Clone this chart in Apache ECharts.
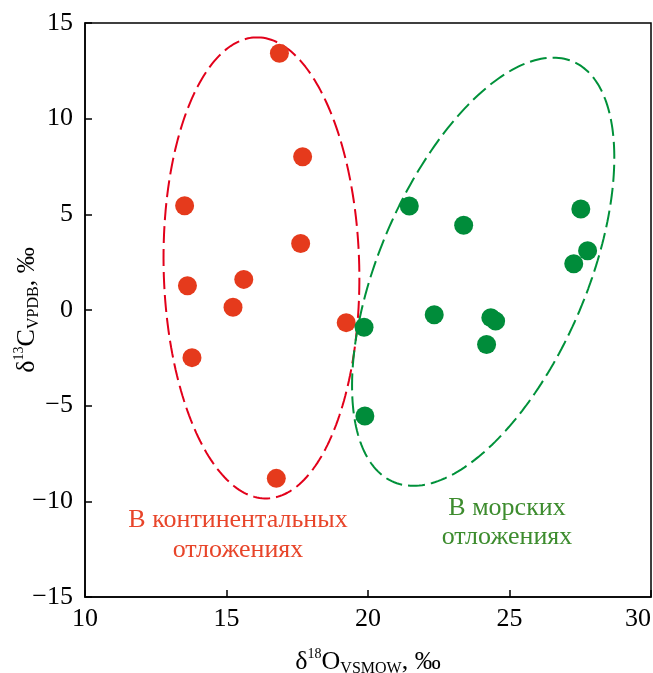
<!DOCTYPE html>
<html><head><meta charset="utf-8">
<script src="https://cdn.jsdelivr.net/npm/echarts@6/dist/echarts.min.js"></script>
<style>html,body{margin:0;padding:0;background:#fff}#c{width:653px;height:673px}</style>
</head><body><div id="c"></div>
<script>
// Continental deposits (red)
const contX = [16.87, 17.69, 13.52, 17.62, 13.62, 15.61, 15.23, 13.78, 16.76, 19.23];
const contY = [13.42, 8.01, 5.45, 3.48, 1.27, 1.60, 0.14, -2.49, -8.80, -0.66];
// Marine deposits (green)
const marX = [21.46, 23.38, 27.52, 27.76, 27.27, 19.86, 22.34, 24.34, 24.51, 24.19, 19.89];
const marY = [5.44, 4.43, 5.28, 3.10, 2.42, -0.90, -0.25, -0.40, -0.58, -1.80, -5.54];
// Ticks
const xMin = 10, xMax = 30, xStep = 5;
const yMin = -15, yMax = 15, yStep = 5;
// Group outline ellipses (center, conjugate half-axes in data units)
const contEllipse = {cx: 16.235, cy: 2.2, ux: -0.02, uy: 12.04, vx: 3.46, vy: -0.47};
const marEllipse  = {cx: 24.07, cy: 2.0, ux: 2.47, uy: 11.19, vx: 3.92, vy: 0};
const contLabel = 'В континентальных\nотложениях';
const marLabel = 'В морских\nотложениях';

function ellipsePts(e){
  const pts = [];
  const N = 240;
  for (let i = 0; i <= N; i++){
    const t = 2*Math.PI*i/N;
    pts.push([e.cx + e.ux*Math.cos(t) + e.vx*Math.sin(t), e.cy + e.uy*Math.cos(t) + e.vy*Math.sin(t)]);
  }
  return pts;
}
const zip = (a,b) => a.map((v,i)=>[v,b[i]]);
const FONT = "'Liberation Serif', 'Times New Roman', serif";
const FS = 26;
const chart = echarts.init(document.getElementById('c'), null, {renderer:'canvas'});
const minus = v => String(v).replace('-', '\u2212');
const rich = {
  d:{fontFamily:FONT, fontSize:FS, color:'#000', lineHeight:30},
  sup:{fontFamily:FONT, fontSize:14, color:'#000', verticalAlign:'top', lineHeight:30},
  sub:{fontFamily:FONT, fontSize:16, color:'#000', verticalAlign:'bottom', lineHeight:22}
};
chart.setOption({
  animation:false,
  backgroundColor:'#fff',
  grid:{left:85, right:2, top:23, bottom:76, outerBoundsMode:'none', containLabel:false, show:true, borderColor:'#000', borderWidth:1.5},
  xAxis:{
    type:'value', min:xMin, max:xMax, interval:xStep,
    axisLine:{show:true, onZero:false, lineStyle:{color:'#000', width:1.5}},
    axisTick:{show:true, inside:true, length:7, lineStyle:{color:'#000', width:1.5}},
    splitLine:{show:false},
    axisLabel:{color:'#000', fontFamily:FONT, fontSize:FS, margin:9, alignMaxLabel:'right', formatter:minus},
    name:'{d|δ}{sup|18}{d|O}{sub|VSMOW}{d|, ‰}', nameLocation:'middle', nameGap:50, nameMoveOverlap:false,
    nameTextStyle:{rich:rich}
  },
  yAxis:{
    type:'value', min:yMin, max:yMax, interval:yStep,
    axisLine:{show:true, onZero:false, lineStyle:{color:'#000', width:1.5}},
    axisTick:{show:true, inside:true, length:7, lineStyle:{color:'#000', width:1.5}},
    splitLine:{show:false},
    axisLabel:{color:'#000', fontFamily:FONT, fontSize:FS, margin:12, formatter:minus},
    name:'{d|δ}{sup|13}{d|C}{sub|VPDB}{d|, ‰}', nameLocation:'middle', nameGap:43, nameMoveOverlap:false,
    nameTextStyle:{rich:rich}
  },
  series:[
    {type:'line', data:ellipsePts(contEllipse), showSymbol:false, silent:true, z:1,
     lineStyle:{color:'#e2001a', width:2, type:[17,6]}},
    {type:'line', data:ellipsePts(marEllipse), showSymbol:false, silent:true, z:1,
     lineStyle:{color:'#00913a', width:2, type:[17,6]}},
    {type:'scatter', data:zip(contX, contY), symbol:'circle', symbolSize:19, z:3,
     itemStyle:{color:'#e53a1c', opacity:1}},
    {type:'scatter', data:zip(marX, marY), symbol:'circle', symbolSize:19, z:3,
     itemStyle:{color:'#008c3a', opacity:1}}
  ],
  graphic:[
    {type:'text', x:238, y:535, style:{text:contLabel, fill:'#e8452a', font:FS+'px '+FONT, align:'center', verticalAlign:'middle', lineHeight:30}},
    {type:'text', x:507, y:523, style:{text:marLabel, fill:'#3d8c2e', font:FS+'px '+FONT, align:'center', verticalAlign:'middle', lineHeight:29}}
  ]
});
</script></body></html>
